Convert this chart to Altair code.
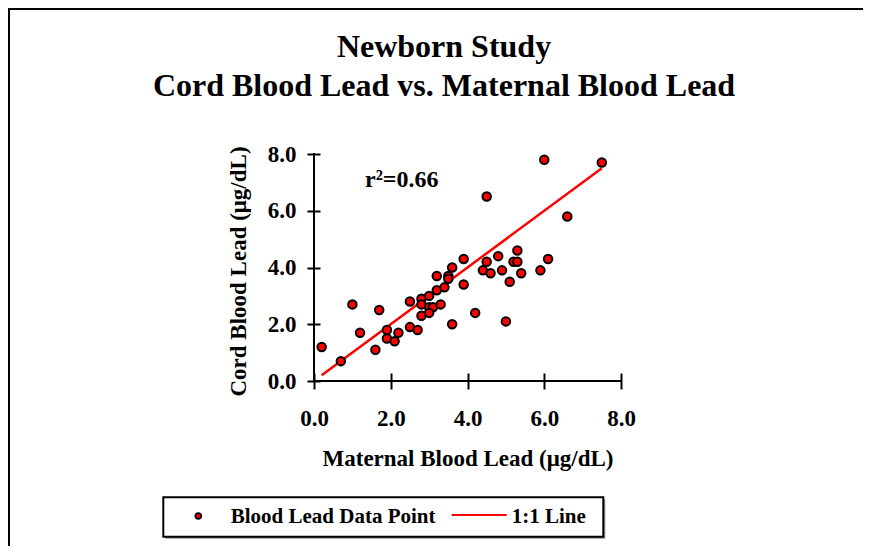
import altair as alt
import pandas as pd

# ---- data ----
maternal = [0.2, 0.7, 1.0, 1.2, 1.6, 1.7, 1.9, 1.9, 2.1, 2.2, 2.5, 2.5, 2.7, 2.8, 2.8, 2.8,
            3.0, 3.0, 3.1, 3.0, 3.2, 3.2, 3.3, 3.4, 3.5, 3.5, 3.6, 3.6, 3.9, 3.9, 4.2, 4.4,
            4.5, 4.5, 4.6, 4.8, 4.9, 5.0, 5.1, 5.2, 5.3, 5.3, 5.4, 5.9, 6.0, 6.1, 6.6, 7.5]
cord = [1.2, 0.7, 2.7, 1.7, 1.1, 2.5, 1.8, 1.5, 1.4, 1.7, 2.8, 1.9, 1.8, 2.9, 2.7, 2.3,
        3.0, 2.6, 2.6, 2.4, 3.7, 3.2, 2.7, 3.3, 3.7, 3.6, 4.0, 2.0, 4.3, 3.4, 2.4, 3.9,
        6.5, 4.2, 3.8, 4.4, 3.9, 2.1, 3.5, 4.2, 4.6, 4.2, 3.8, 3.9, 7.8, 4.3, 5.8, 7.7]
line_x = [0.2, 7.5]
line_y = [0.2, 7.5]
tick_values = [0, 2, 4, 6, 8]
title_lines = ["Newborn Study", "Cord Blood Lead vs. Maternal Blood Lead"]
legend_labels = ["Blood Lead Data Point", "1:1 Line"]
r2_label = "r\u00b2=0.66"
x_title = "Maternal Blood Lead (\u03bcg/dL)"
y_title = "Cord Blood Lead (\u03bcg/dL)"

FONT = "Liberation Serif"
RED = "#ff0000"
W, H = 307, 227

pts = pd.DataFrame({"maternal": maternal, "cord": cord})
line_df = pd.DataFrame({"maternal": line_x, "cord": line_y})
one = pd.DataFrame({"k": [0]})

xscale = alt.Scale(domain=[0, 8], nice=False, zero=False)
yscale = alt.Scale(domain=[0, 8], nice=False, zero=False)

xaxis = alt.Axis(values=tick_values, format=".1f", offset=-8, tickSize=16, domain=False,
                 grid=False, labelPadding=18, labelFontSize=23, labelFlush=False,
                 title=x_title, titleX=153.5, titleY=92, titleAlign="center",
                 titleBaseline="alphabetic", titleAngle=0)
yaxis = alt.Axis(values=tick_values, format=".1f", offset=-6, tickSize=13, domain=False,
                 grid=False, labelPadding=11, labelFontSize=23, labelFlush=False,
                 title=y_title, titleX=-75, titleY=117, titleAngle=270, titleAlign="center",
                 titleBaseline="alphabetic")

X = alt.X("maternal:Q", scale=xscale, axis=xaxis)
Y = alt.Y("cord:Q", scale=yscale, axis=yaxis)

frame = alt.Chart(one).mark_rect(fillOpacity=0, stroke="black", strokeWidth=2).encode(
    x=alt.value(-305), x2=alt.value(900), y=alt.value(-145), y2=alt.value(900))

fit_line = alt.Chart(line_df).mark_line(color=RED, strokeWidth=2.5).encode(x=X, y=Y)

points = alt.Chart(pts).mark_circle(size=72, fill=RED, fillOpacity=1, stroke="black",
                                    strokeWidth=2, opacity=1).encode(x=X, y=Y)

x_axis_line = alt.Chart(one).mark_rule(color="black", strokeWidth=2).encode(
    x=alt.value(-1), x2=alt.value(W + 1), y=alt.value(H))
y_axis_line = alt.Chart(one).mark_rule(color="black", strokeWidth=2).encode(
    x=alt.value(0), y=alt.value(-1), y2=alt.value(H + 1))

title1 = alt.Chart(one).mark_text(text=title_lines[0], font=FONT, fontSize=32,
                                  fontWeight="bold", align="center", baseline="alphabetic",
                                  color="black").encode(x=alt.value(130), y=alt.value(-97))
title2 = alt.Chart(one).mark_text(text=title_lines[1], font=FONT, fontSize=32,
                                  fontWeight="bold", align="center", baseline="alphabetic",
                                  color="black").encode(x=alt.value(130), y=alt.value(-58))

r2 = alt.Chart(one).mark_text(text=r2_label, font=FONT, fontSize=24, fontWeight="bold",
                              align="left", baseline="alphabetic", color="black").encode(
    x=alt.value(51), y=alt.value(33))

shadow = alt.Chart(one).mark_rect(fill="#999999").encode(
    x=alt.value(-148.7), x2=alt.value(291.3), y=alt.value(345.3), y2=alt.value(384.7))
box = alt.Chart(one).mark_rect(fill="white", stroke="black", strokeWidth=2).encode(
    x=alt.value(-150.7), x2=alt.value(289.3), y=alt.value(343.3), y2=alt.value(382.7))
leg_dot = alt.Chart(one).mark_circle(size=35, fill=RED, fillOpacity=1, stroke="black",
                                     strokeWidth=1.8, opacity=1).encode(
    x=alt.value(-115.7), y=alt.value(362))
leg_line = alt.Chart(one).mark_rule(color=RED, strokeWidth=2).encode(
    x=alt.value(137.7), x2=alt.value(192.7), y=alt.value(361))
leg_t1 = alt.Chart(one).mark_text(text=legend_labels[0], font=FONT, fontSize=21,
                                  fontWeight="bold", align="left", baseline="alphabetic",
                                  color="black").encode(x=alt.value(-83.3), y=alt.value(369.3))
leg_t2 = alt.Chart(one).mark_text(text=legend_labels[1], font=FONT, fontSize=21,
                                  fontWeight="bold", align="left", baseline="alphabetic",
                                  color="black").encode(x=alt.value(197.7), y=alt.value(369.3))

chart = alt.layer(
    frame, fit_line, points, x_axis_line, y_axis_line, title1, title2, r2,
    shadow, box, leg_dot, leg_line, leg_t1, leg_t2
).properties(
    width=W, height=H,
    autosize=alt.AutoSizeParams(type="none"),
    padding={"left": 306, "top": 146, "right": 242, "bottom": 165},
    background="white",
).configure_view(stroke=None).configure_axis(
    labelFont=FONT, labelFontWeight="bold", labelColor="black",
    titleFont=FONT, titleFontWeight="bold", titleFontSize=23, titleColor="black",
    tickColor="black", tickWidth=2,
)

chart.save("out.html", embed_options={"renderer": "svg", "actions": False})
